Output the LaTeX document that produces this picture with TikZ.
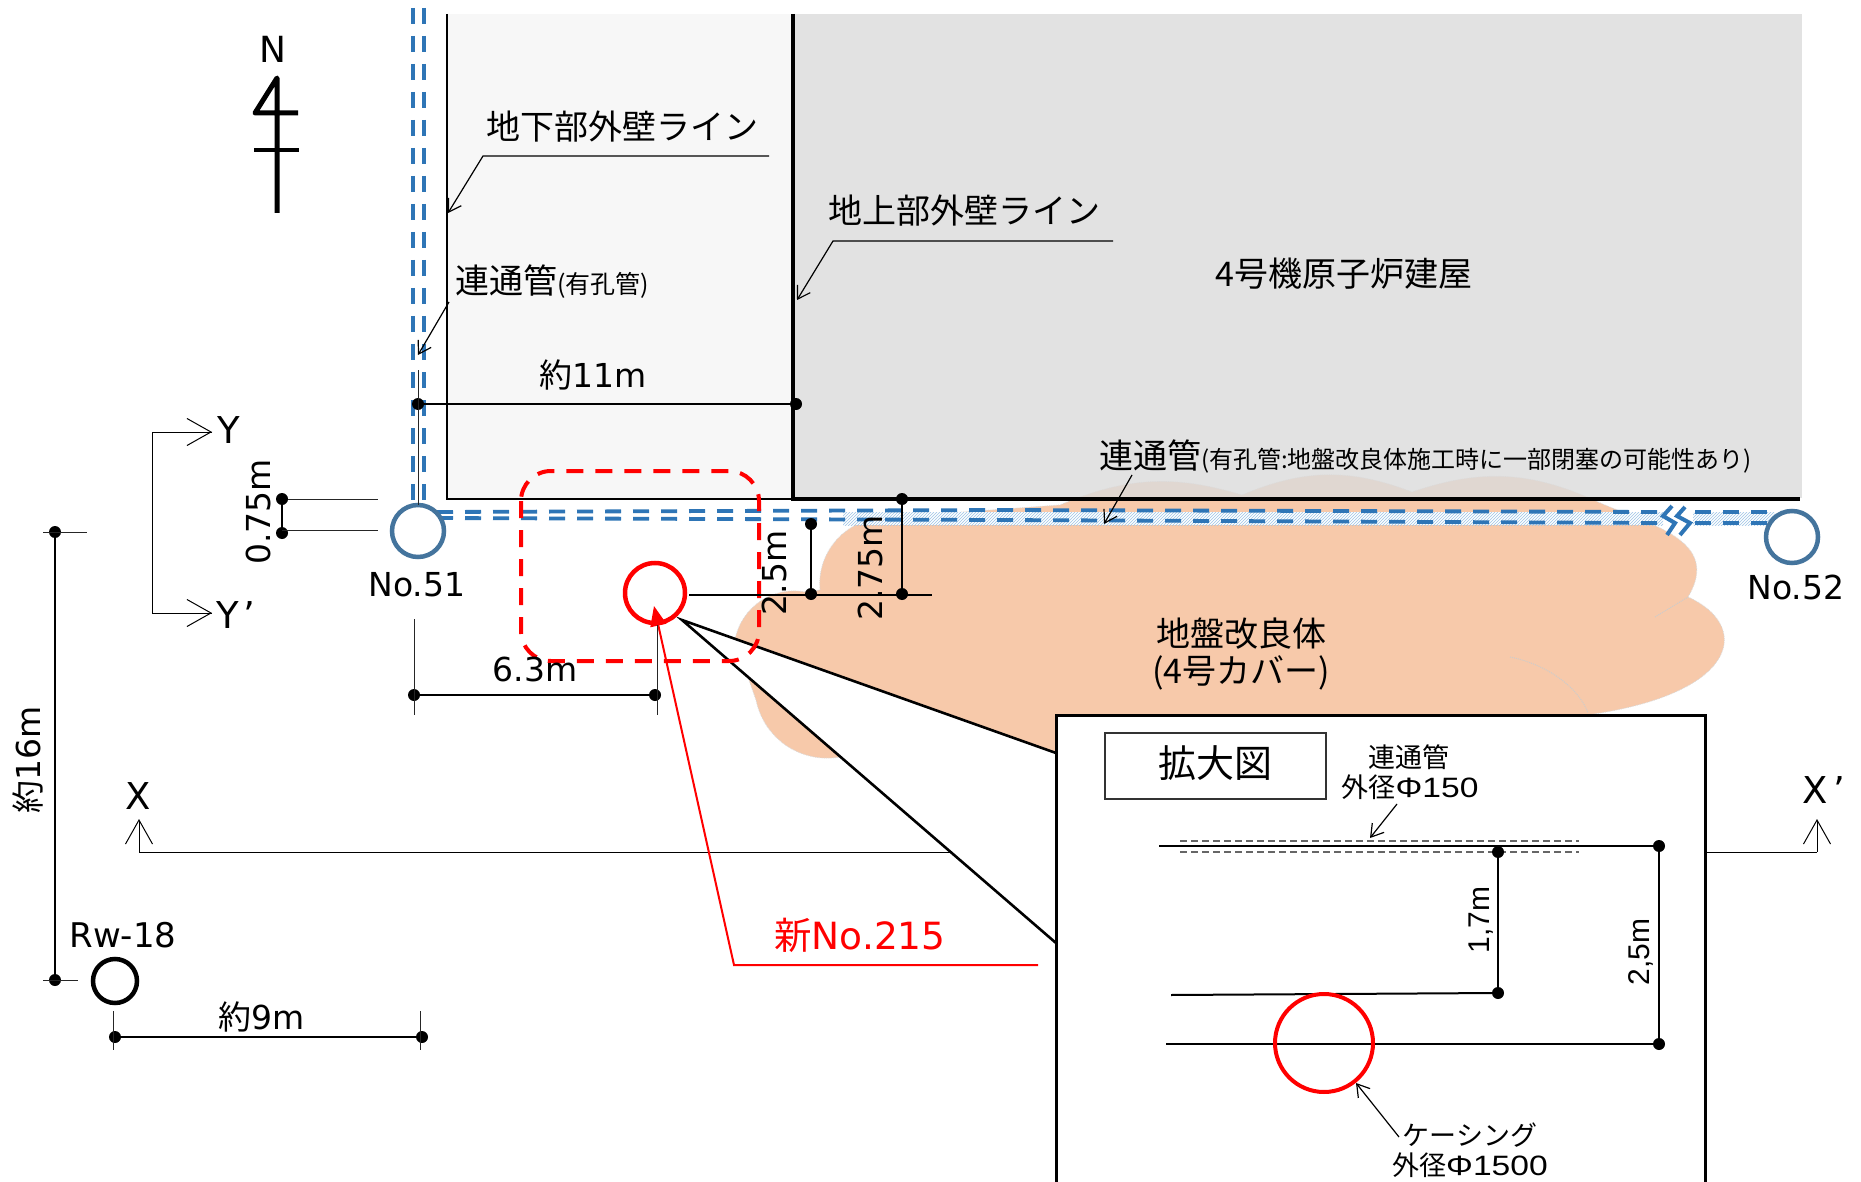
\documentclass[tikz,border=0pt]{standalone}
\usepackage{fontspec}
\setmainfont{DejaVu Sans}
\newfontfamily\jpfont{Noto Sans CJK JP}
\newfontfamily\arialfont{Liberation Sans}
\newfontfamily\widefont[FakeStretch=1.2]{Liberation Sans}
\usetikzlibrary{arrows.meta,patterns}
\definecolor{peach}{HTML}{F7C9AA}
\definecolor{pipeblue}{HTML}{2E75B6}
\definecolor{wellblue}{HTML}{44749D}
\definecolor{hatchblue}{HTML}{9DC3E6}
\newcommand{\fsz}[1]{\fontsize{#1}{#1}\selectfont}
\tikzset{
  lab/.style={inner sep=0pt,font=\fsz{33}},
  jp/.style={inner sep=0pt,font=\fsz{34}\jpfont},
  inset/.style={inner sep=0pt,font=\fsz{28}\widefont},
  pt/.style={circle,fill=black,inner sep=0pt,minimum size=12pt},
  dim/.style={black,line width=2pt},
  thindim/.style={black!85,line width=1pt},
  pipe/.style={pipeblue,line width=4.5pt,dash pattern=on 16pt off 12pt},
  flatpipe/.style={pipeblue,line width=3.8pt,dash pattern=on 16pt off 12pt},
  well/.style={circle,draw=wellblue,line width=4.5pt,inner sep=0pt,minimum size=52pt},
  newwell/.style={circle,draw=red,line width=4.5pt,inner sep=0pt},
  tip/.style={-{Straight Barb[length=12pt,width=15pt]},line width=1.2pt},
  bigtip/.style={-{Straight Barb[length=24pt,width=27pt]},line width=1pt},
}
\begin{document}
\begin{tikzpicture}[x=1pt,y=-1pt]
  \path[use as bounding box,fill=white] (0,0) rectangle (1861,1182);
  \fill[peach,draw=gray!30,densely dotted,line width=.8pt] (820,590) to[bend left=45] (880,518) -- (1060,505)
    to[bend left=20] (1242,495) to[bend left=22] (1412,492) to[bend left=22] (1598,502)
    .. controls (1650,525) and (1722,540) .. (1688,597)
    .. controls (1750,625) and (1740,690) .. (1600,713)
    -- (1300,760) -- (840,757) to[bend left=44] (756,700) -- (735,640) to[bend left=45] (805,592) -- cycle;
  \draw[gray!40,densely dotted,line width=1pt] (1510,657) .. controls (1550,665) and (1580,690) .. (1588,713);
  \draw[gray!40,densely dotted,line width=1pt] (1655,617) -- (1688,597);
  \fill[black!3] (447,14) rectangle (793,499);
  \fill[black!14,opacity=.8] (793,14) rectangle (1802,498);
  \draw[line width=2pt] (447,14) -- (447,499) -- (793,499);
  \draw[line width=4pt] (793,14) -- (793,499) -- (1800,499);

  \fill[white] (843,512) rectangle (1663,525);
  \fill[white] (1693,512) rectangle (1775,525);
  \fill[pattern=north east lines,pattern color=hatchblue] (843,512) rectangle (1663,525);
  \fill[pattern=north east lines,pattern color=hatchblue] (1693,512) rectangle (1775,525);
  \draw[pipe] (413,8) -- (413,505);
  \draw[pipe] (424,8) -- (424,505);
  \draw[flatpipe] (437,512) -- (1000,510) -- (1662,512);
  \draw[flatpipe] (437,518) -- (1000,520) -- (1662,523);
  \draw[flatpipe] (1695,512) -- (1775,512);
  \draw[flatpipe] (1695,523) -- (1775,523);
  \draw[pipeblue,line width=4pt] (1672,506) -- (1663,516) -- (1675,523) -- (1667,535);
  \draw[pipeblue,line width=4pt] (1685,507) -- (1677,516) -- (1690,523) -- (1680,535);
  \node[well,fill=white] (no51) at (418,531) {};
  \node[well,fill=white] (no52) at (1792,537) {};
  \node[lab] (no51lab) at (417,585) {No.51};
  \node[lab] (no52lab) at (1796,587) {No.52};

  \node[lab,font=\fsz{36}] (north) at (273,49) {N};
  \coordinate (ntop) at (277,78);
  \coordinate (nbot) at (277,213);
  \draw[line width=5pt,line join=round] (nbot) -- (ntop) -- (255,113) -- (298,113);
  \draw[line width=4.5pt] (254,150) -- (299,150);

  \coordinate (yup) at (212,432);
  \coordinate (ydown) at (212,613);
  \draw[bigtip] (152,432) -- (yup);
  \draw[bigtip] (152,613) -- (ydown);
  \draw[line width=1pt] (yup) -- (152,432) -- (152,613) -- (ydown);
  \node[lab,font=\fsz{37}] (ylab) at (229,430) {Y};
  \node[lab,font=\fsz{37}] (yplab) at (236,615) {Y\kern5pt’};

  \coordinate (xleft) at (139,819);
  \coordinate (xright) at (1817,819);
  \draw[bigtip] (139,852) -- (xleft);
  \draw[bigtip] (1817,852) -- (xright);
  \draw[line width=1pt] (139,852) -- (1056,852);
  \draw[line width=1pt] (1705,852) -- (1817,852);
  \node[lab,font=\fsz{37}] (xlab) at (138,796) {X};
  \node[lab,font=\fsz{37}] (xplab) at (1824,790) {X\kern5pt’};

  \coordinate (wedge) at (682,620);
  \fill[white] (wedge) -- (1056,753) -- (1056,943) -- cycle;
  \draw[line width=2.6pt] (1056,753) -- (wedge) -- (1056,943);
  \draw[fill=white,line width=3pt] (1056,1182) -- (1056,715) -- (1705,715) -- (1705,1182);

  \draw[red,line width=4pt,dash pattern=on 17pt off 12pt,rounded corners=30pt] (521,471) rectangle (759,661);
  \node[newwell,minimum size=60pt] (no215) at (655,593) {};
  \coordinate (redtip) at (654,606);
  \draw[red,line width=2pt,-{Triangle[length=20pt,width=16pt]}] (1038,965) -- (734,965) -- (redtip);
  \node[lab,text=red,font=\fsz{37.5}] (no215lab) at (860,935) {{\jpfont 新}No.215};

  \node[pt] (w11a) at (418,404) {};
  \node[pt] (w11b) at (796,404) {};
  \draw[dim] (w11a) -- (w11b);
  \draw[thindim] (418,370) -- (418,505);
  \node[lab] (w11lab) at (593,375) {{\jpfont 約}11m};

  \node[pt] (d25a) at (811,524) {};
  \node[pt] (d25b) at (811,594) {};
  \node[pt] (d275a) at (902,499) {};
  \node[pt] (d275b) at (902,594) {};
  \draw[dim] (689,595) -- (932,595);
  \draw[dim] (d25a) -- (d25b);
  \draw[dim] (d275a) -- (d275b);
  \node[lab,rotate=90] (d25lab) at (774,573) {2.5m};
  \node[lab,rotate=90] (d275lab) at (870,568) {2.75m};

  \node[pt] (d075a) at (282,499) {};
  \node[pt] (d075b) at (282,533) {};
  \draw[dim] (d075a) -- (d075b);
  \draw[thindim] (d075a) -- (378,499);
  \draw[thindim] (282,530) -- (378,530);
  \node[lab,rotate=90] (d075lab) at (258,512) {0.75m};

  \node[pt] (d63a) at (414,695) {};
  \node[pt] (d63b) at (655,695) {};
  \draw[dim] (d63a) -- (d63b);
  \draw[thindim] (414,619) -- (414,715);
  \draw[thindim] (657,625) -- (657,715);
  \node[lab] (d63lab) at (535,669) {6.3m};

  \node[pt] (d16a) at (55,532) {};
  \node[pt] (d16b) at (55,980) {};
  \draw[dim] (d16a) -- (d16b);
  \draw[thindim] (43,532) -- (87,532);
  \draw[thindim] (43,980) -- (78,980);
  \node[lab,rotate=90] (d16lab) at (28,760) {{\jpfont 約}16m};

  \node[circle,draw=black,line width=4.5pt,inner sep=0pt,minimum size=44pt] (rw18) at (115,981) {};
  \node[lab,font=\fsz{34}] (rw18lab) at (123,935) {Rw-18};
  \node[pt] (d9a) at (115,1037) {};
  \node[pt] (d9b) at (422,1037) {};
  \draw[dim] (d9a) -- (d9b);
  \draw[thindim] (113,1011) -- (113,1050);
  \draw[thindim] (420,1011) -- (420,1050);
  \node[lab] (d9lab) at (262,1017) {{\jpfont 約}9m};

  \node[jp] (belowlab) at (622,127) {地下部外壁ライン};
  \coordinate (belowtip) at (448,213);
  \draw[tip] (769,156) -- (483,156) -- (belowtip);
  \node[jp] (abovelab) at (964,211) {地上部外壁ライン};
  \coordinate (abovetip) at (797,300);
  \draw[tip] (1113,241) -- (833,241) -- (abovetip);
  \node[jp,anchor=west] (pipelab) at (455,282) {連通管{\fsz{25}(有孔管)}};
  \coordinate (pipetip) at (418,355);
  \draw[tip] (449,302) -- (pipetip);
  \node[jp] (bldglab) at (1344,274) {4号機原子炉建屋};
  \node[jp,anchor=west] (pipe2lab) at (1099,456) {連通管{\fsz{24}(有孔管:地盤改良体施工時に一部閉塞の可能性あり)}};
  \coordinate (pipe2tip) at (1104,524);
  \draw[tip] (1132,475) -- (pipe2tip);
  \node[jp,align=center,font=\fontsize{34}{37}\selectfont\jpfont] (coverlab) at (1241,654) {地盤改良体\\(4号カバー)};

  \draw[line width=1.5pt,draw=black!80] (1105,733) rectangle (1326,799);
  \node[jp,font=\fsz{38}\jpfont] (zoomlab) at (1215,763) {拡大図};
  \node[inset,font=\fsz{27}\jpfont] (tubelab) at (1409,757) {連通管};
  \node[inset] (tubesize) at (1410,787) {{\jpfont\fsz{27}外径}Φ150};
  \coordinate (tubetip) at (1370,838);
  \draw[tip] (1397,804) -- (tubetip);
  \draw[black!60,line width=1.2pt,dash pattern=on 7pt off 4pt] (1180,841) -- (1579,841);
  \draw[black!60,line width=1.2pt,dash pattern=on 7pt off 4pt] (1180,852) -- (1579,852);
  \node[pt] (g17a) at (1498,852) {};
  \node[pt] (g17b) at (1498,993) {};
  \node[pt] (g25a) at (1659,846) {};
  \node[pt] (g25b) at (1659,1044) {};
  \draw[dim] (1159,846) -- (g25a);
  \draw[dim] (g17a) -- (g17b);
  \draw[dim] (g25a) -- (g25b);
  \draw[dim] (1171,995) -- (g17b);
  \draw[dim] (1166,1044) -- (g25b);
  \node[newwell,line width=4pt,minimum size=98pt] (casing) at (1324,1043) {};
  \node[inset,rotate=90,font=\fsz{30}\arialfont] (g17lab) at (1481,920) {1,7m};
  \node[inset,rotate=90,font=\fsz{30}\arialfont] (g25lab) at (1641,952) {2,5m};
  \coordinate (casingtip) at (1356,1083);
  \draw[tip] (1399,1137) -- (casingtip);
  \node[inset,font=\fsz{27}\jpfont] (casinglab) at (1470,1135) {ケーシング};
  \node[inset] (casingsize) at (1470,1165) {{\jpfont\fsz{27}外径}Φ1500};
\end{tikzpicture}
\end{document}
